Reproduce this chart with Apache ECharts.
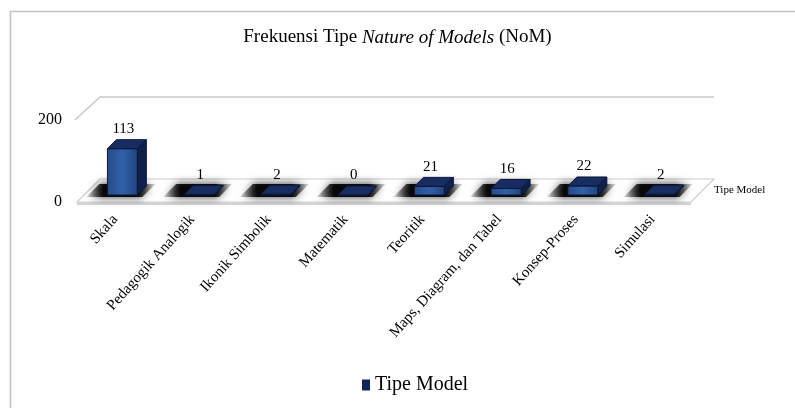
<!DOCTYPE html>
<html>
<head>
<meta charset="utf-8">
<script src="https://cdn.jsdelivr.net/npm/echarts@6/dist/echarts.min.js"></script>
<style>
  html, body { margin: 0; padding: 0; background: #fff; }
  #chart { width: 795px; height: 408px; }
</style>
</head>
<body>
<div id="chart"></div>
<script>
// Frequency of each NoM model type
const categories = ['Skala', 'Pedagogik Analogik', 'Ikonik Simbolik', 'Matematik',
  'Teoritik', 'Maps, Diagram, dan Tabel', 'Konsep-Proses', 'Simulasi'];
const values = [113, 1, 2, 0, 21, 16, 22, 2];
const yMin = 0;
const yMax = 200;
const seriesName = 'Tipe Model';

const FONT = "'Liberation Serif', 'Times New Roman', serif";
const FLOOR_DEPTH = 23;   // oblique depth of the floor / side wall
const BAR_OFFSET = 7;     // bars sit this far behind the front edge
const BAR_DEPTH = 9;      // depth of each prism
const BAR_RATIO = 0.39;   // bar width as share of the category band

const chart = echarts.init(document.getElementById('chart'), null, { renderer: 'canvas' });

// floor and 200-level gridline of the pseudo-3D plot area
function renderWalls(params, api) {
  const cs = params.coordSys;
  const x0 = cs.x, x1 = cs.x + cs.width;
  const yBase = api.coord([0, yMin])[1];
  const yTop = api.coord([0, yMax])[1];
  const D = FLOOR_DEPTH;
  return {
    type: 'group',
    children: [
      {
        type: 'polygon',
        shape: { points: [[x0, yBase], [x0 + D, yBase - D], [x1 + D, yBase - D], [x1, yBase]] },
        style: { fill: '#ffffff', stroke: '#cdcdcd', lineWidth: 1.2 }
      },
      {
        type: 'line',
        shape: { x1: x0, y1: yBase + 1.5, x2: x1, y2: yBase + 1.5 },
        style: { stroke: '#d4d4d4', lineWidth: 3 }
      },
      {
        type: 'polyline',
        shape: { points: [[x0 - 2, yTop], [x0 + D, yTop - D], [x1 + D, yTop - D]] },
        style: { stroke: '#c8c8c8', lineWidth: 1.5, fill: null }
      },
      {
        type: 'text',
        style: {
          text: seriesName,
          x: x1 + D,
          y: yBase - 12,
          align: 'left',
          verticalAlign: 'middle',
          font: '11px ' + FONT,
          fill: '#000'
        }
      }
    ]
  };
}

// one oblique prism per category with its floor shadow and value label
function renderBar(params, api) {
  const idx = api.value(0);
  const v = api.value(1);
  const p0 = api.coord([idx, 0]);
  const p1 = api.coord([idx, v]);
  const band = api.size([1, 0])[0];
  const bw = band * BAR_RATIO;
  const cx = p0[0] + BAR_OFFSET;
  const l = cx - bw / 2, r = cx + bw / 2;
  const b = p0[1] - BAR_OFFSET;
  const t = p1[1] - BAR_OFFSET;
  const D = BAR_DEPTH;
  const edge = '#0b1736';
  return {
    type: 'group',
    children: [
      {
        type: 'polygon',
        shape: { points: [[cx - 36, b + 2], [cx + 20, b + 2], [cx + 33, b - 11], [cx - 23, b - 11]] },
        style: {
          fill: new echarts.graphic.LinearGradient(0, 0, 1, 0, [
            { offset: 0, color: 'rgba(0,0,0,0.1)' },
            { offset: 0.25, color: 'rgba(0,0,0,0.92)' },
            { offset: 0.75, color: 'rgba(0,0,0,0.92)' },
            { offset: 1, color: 'rgba(0,0,0,0.1)' }
          ]),
          shadowBlur: 10,
          shadowColor: 'rgba(0,0,0,0.85)'
        }
      },
      {
        type: 'polygon',
        shape: { points: [[r, b], [r + D, b - D], [r + D, t - D], [r, t]] },
        style: { fill: '#0f2049', stroke: edge, lineWidth: 1 }
      },
      {
        type: 'polygon',
        shape: { points: [[l, b], [r, b], [r, t], [l, t]] },
        style: {
          fill: new echarts.graphic.LinearGradient(0, 0, 1, 0, [
            { offset: 0, color: '#254a8a' },
            { offset: 0.5, color: '#3160a8' },
            { offset: 1, color: '#22447f' }
          ]),
          stroke: edge, lineWidth: 1
        }
      },
      {
        type: 'polygon',
        shape: { points: [[l, t], [r, t], [r + D, t - D], [l + D, t - D]] },
        style: { fill: '#172d62', stroke: edge, lineWidth: 1 }
      },
      {
        type: 'text',
        style: {
          text: String(v),
          x: cx + 1,
          y: t - D - 3,
          align: 'center',
          verticalAlign: 'bottom',
          font: '15px ' + FONT,
          fill: '#000'
        }
      }
    ]
  };
}

chart.setOption({
  animation: false,
  backgroundColor: '#ffffff',
  title: {
    text: '{a|Frekuensi Tipe }{b|Nature of Models}{a| (NoM)}',
    left: 'center',
    top: 23,
    textStyle: {
      rich: {
        a: { fontFamily: FONT, fontSize: 19, fontWeight: 'normal', color: '#000' },
        b: { fontFamily: FONT, fontSize: 19, fontWeight: 'normal', fontStyle: 'italic', color: '#000' }
      }
    }
  },
  legend: {
    data: [seriesName],
    left: 357,
    top: 370,
    icon: 'rect',
    itemWidth: 8,
    itemHeight: 11,
    textStyle: { fontFamily: FONT, fontSize: 20, color: '#000' }
  },
  grid: { left: 77, right: 104, top: 120, bottom: 206, containLabel: false },
  xAxis: {
    type: 'category',
    data: categories,
    axisLine: { show: false },
    axisTick: { show: false },
    axisLabel: {
      interval: 0,
      rotate: 48,
      margin: 15,
      fontFamily: FONT,
      fontSize: 15,
      color: '#000'
    }
  },
  yAxis: {
    type: 'value',
    min: yMin,
    max: yMax,
    interval: 200,
    axisLine: { show: false },
    axisTick: { show: false },
    splitLine: { show: false },
    axisLabel: { margin: 15, fontFamily: FONT, fontSize: 16, color: '#000' }
  },
  graphic: [
    {
      type: 'rect',
      shape: { x: 10.5, y: 11.5, width: 900, height: 500 },
      style: { fill: 'none', stroke: '#c2c2c2', lineWidth: 1.6 },
      silent: true,
      z: -10
    }
  ],
  series: [
    {
      type: 'custom',
      name: 'walls',
      silent: true,
      z: 1,
      renderItem: renderWalls,
      data: [[0, 0]]
    },
    {
      type: 'custom',
      name: seriesName,
      z: 2,
      itemStyle: { color: '#13245a' },
      renderItem: renderBar,
      data: values.map((v, i) => [i, v])
    }
  ]
});
</script>
</body>
</html>
